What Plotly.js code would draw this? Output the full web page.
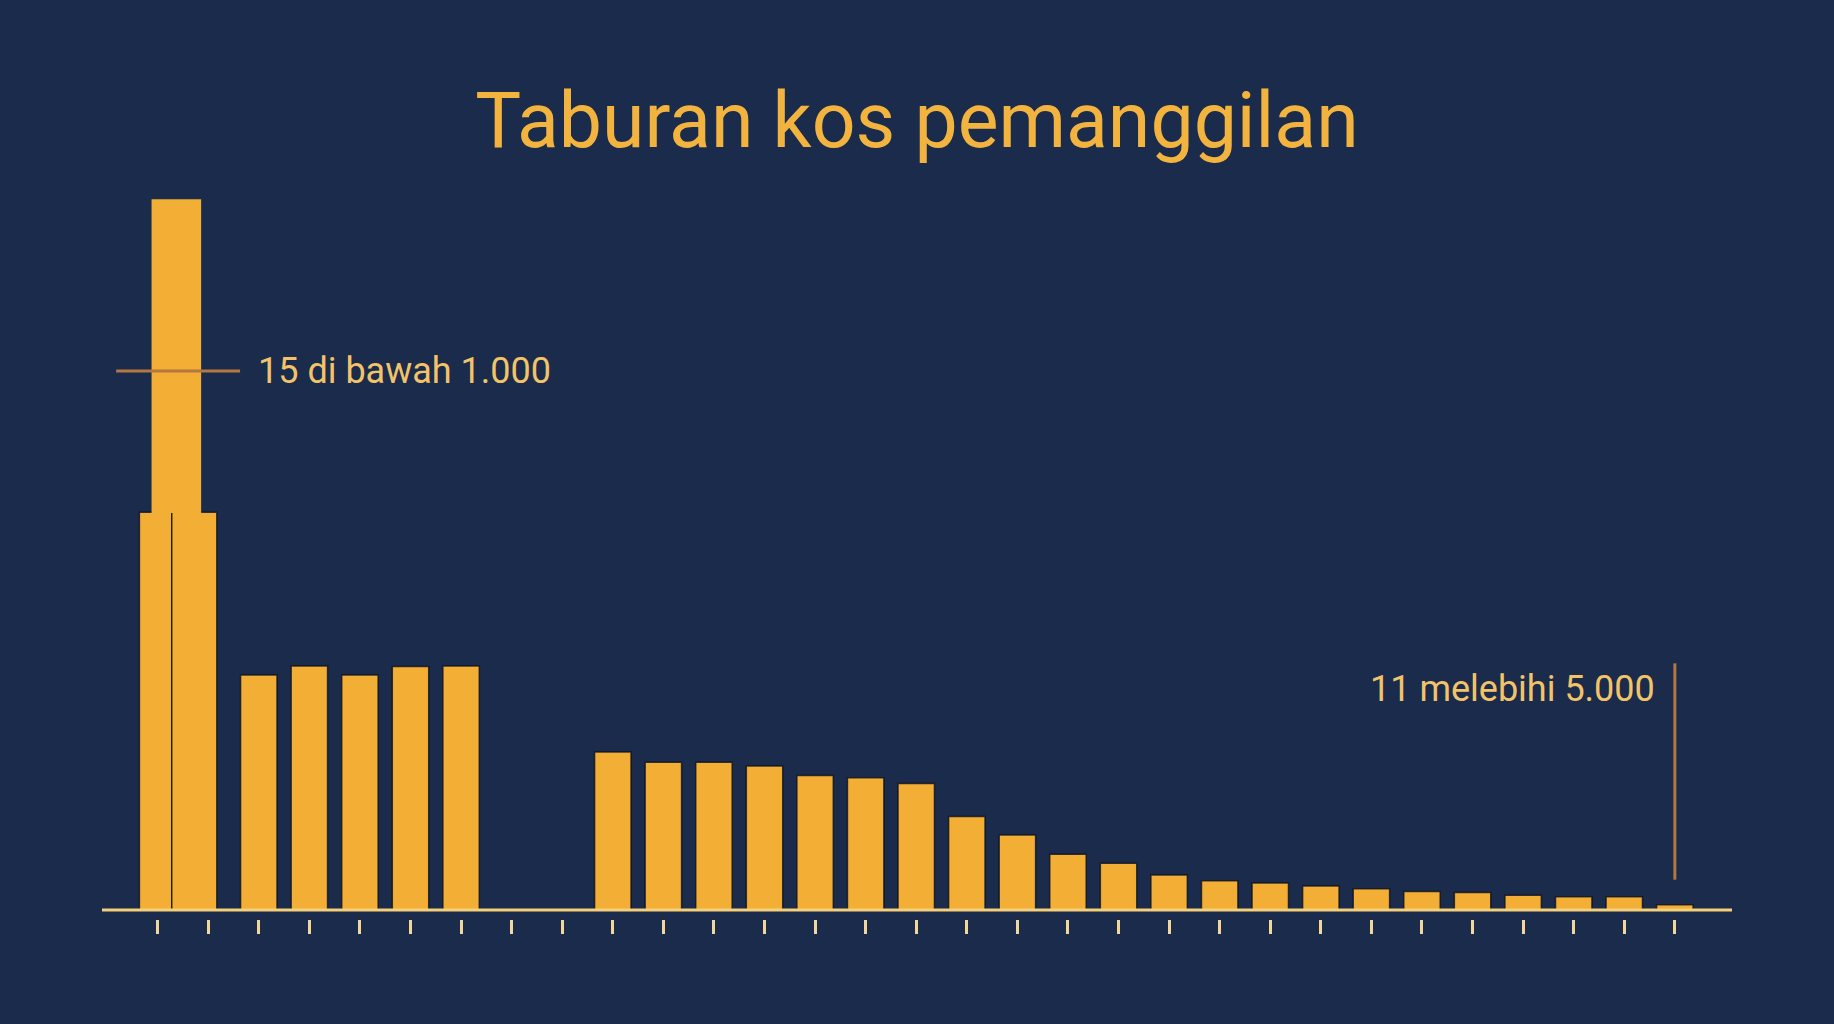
<!DOCTYPE html>
<html>
<head>
<meta charset="utf-8">
<script src="https://cdn.plot.ly/plotly-3.0.1.min.js"></script>
<style>
  html, body { margin: 0; padding: 0; background: #1a2b4b; }
  #chart { width: 1834px; height: 1024px; }
</style>
</head>
<body>
<div id="chart"></div>
<script>
// bin index along the cost axis (no tick labels on the original)
const bins = [];
for (let i = 0; i < 31; i++) bins.push(i);

// call counts per bin
const counts = [748, 748, 442, 459, 442, 458, 459, 0, 0,
  297, 278, 278, 271, 253, 249, 238, 176, 141, 105,
  88, 66, 55, 51, 45, 40, 35, 33, 28, 25, 25, 10];

// the spike on top of the first bin
const spikeBin = [0];
const spikeTop = [1338];

const titleText = "Taburan kos pemanggilan";
const lowNote = "15 di bawah 1.000";
const highNote = "11 melebihi 5.000";

const gold = "#f2ae35";
const navy = "#1a2b4b";
const noteLine = "#b3773f";

// first two bins are drawn merged into the tower
let widths = bins.map(() => 0.72);
let offsets = bins.map(() => -0.36);
widths[0] = 0.64; offsets[0] = -0.36;
widths[1] = 0.89; offsets[1] = -0.72;

const bars = {
  type: "bar",
  x: bins,
  y: counts,
  width: widths,
  offset: offsets,
  marker: { color: gold, line: { color: "rgba(8,14,28,0.75)", width: 1.5 } },
  hoverinfo: "skip",
};

const spike = {
  type: "bar",
  x: spikeBin,
  y: spikeTop.map((v, i) => v - counts[spikeBin[i]]),
  base: spikeBin.map((b) => counts[b] - 1),
  width: [0.98],
  offset: [-0.12],
  marker: { color: gold, line: { width: 0 } },
  hoverinfo: "skip",
};

const lowY = 1014;
const layout = {
  width: 1834,
  height: 1024,
  paper_bgcolor: navy,
  plot_bgcolor: navy,
  showlegend: false,
  barmode: "overlay",
  margin: { l: 102, r: 102, t: 160, b: 105 },
  title: {
    text: titleText,
    font: { family: "Roboto", size: 77, color: "#f2b43f" },
    x: 0.5, xanchor: "center",
    yref: "container", y: 1 - 120 / 1024, yanchor: "middle",
  },
  xaxis: {
    range: [-1.1, 31.13],
    tickmode: "array",
    tickvals: bins,
    showticklabels: false,
    ticks: "outside",
    ticklen: 14,
    tickwidth: 3,
    tickcolor: "#f3d79a",
    showgrid: false,
    zeroline: false,
    showline: false,
  },
  yaxis: {
    range: [-16.9, 1410.8],
    visible: false,
    showgrid: false,
    zeroline: false,
  },
  shapes: [
    { type: "line", xref: "paper", x0: 0, x1: 1, yref: "y", y0: 0, y1: 0,
      line: { color: "#f4d07c", width: 3 } },
    { type: "line", xref: "x", x0: -0.82, x1: 1.63, yref: "y", y0: lowY, y1: lowY,
      line: { color: noteLine, width: 3 } },
    { type: "line", xref: "x", x0: 30, x1: 30, yref: "y", y0: 57, y1: 464,
      line: { color: noteLine, width: 3 } },
  ],
  annotations: [
    { text: lowNote, xref: "x", x: 1.95, xanchor: "left", yref: "y", y: lowY,
      yanchor: "middle", showarrow: false,
      font: { family: "Roboto", size: 36, color: "#f3c36a" } },
    { text: highNote, xref: "x", x: 29.65, xanchor: "right", yref: "y", y: 416,
      yanchor: "middle", showarrow: false,
      font: { family: "Roboto", size: 36, color: "#f3c36a" } },
  ],
};

Plotly.newPlot("chart", [bars, spike], layout, { displayModeBar: false, staticPlot: true });
</script>
</body>
</html>
